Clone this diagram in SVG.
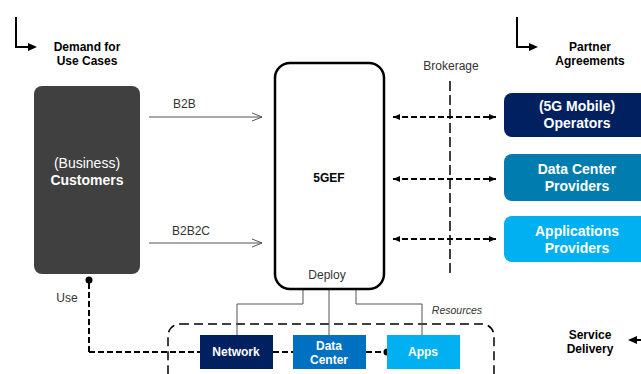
<svg xmlns="http://www.w3.org/2000/svg" width="641" height="374" viewBox="0 0 641 374">
<style>
text{font-family:"Liberation Sans",Arial,sans-serif;}
.b{font-weight:bold;}
.hdr{font-size:12px;font-weight:bold;fill:#000;text-anchor:middle;}
.lbl{font-size:12px;fill:#333;}
.wt{fill:#fff;font-weight:bold;text-anchor:middle;}
.thin{stroke:#555;stroke-width:1;fill:none;}
.dash{stroke:#000;stroke-width:2;stroke-dasharray:6 3;fill:none;}
</style>
<defs>
<marker id="open" markerWidth="12" markerHeight="10" refX="11" refY="5" orient="auto" markerUnits="userSpaceOnUse">
<path d="M1,1 L11,5 L1,9" fill="none" stroke="#555" stroke-width="1"/>
</marker>
<marker id="fill" markerWidth="8" markerHeight="8" refX="7" refY="4" orient="auto-start-reverse" markerUnits="userSpaceOnUse">
<path d="M0,1 L7,4 L0,7 Z" fill="#000"/>
</marker>
<marker id="big" markerWidth="10" markerHeight="10" refX="9" refY="5" orient="auto" markerUnits="userSpaceOnUse">
<path d="M0,1 L9,5 L0,9 Z" fill="#000"/>
</marker>
<marker id="dot" markerWidth="8" markerHeight="8" refX="4" refY="4" orient="auto" markerUnits="userSpaceOnUse">
<circle cx="4" cy="4" r="3.5" fill="#000"/>
</marker>
</defs>

<g id="header-demand">
<path d="M16,17 V47 H29" fill="none" stroke="#000" stroke-width="2"/>
<path d="M28,43 L37,47 L28,51 Z" fill="#000"/>
<text class="hdr" x="87" y="51">Demand for</text>
<text class="hdr" x="87" y="65">Use Cases</text>
</g>
<g id="header-partner">
<path d="M517,17 V47 H530" fill="none" stroke="#000" stroke-width="2"/>
<path d="M529,43 L538,47 L529,51 Z" fill="#000"/>
<text class="hdr" x="590" y="51">Partner</text>
<text class="hdr" x="590" y="65">Agreements</text>
</g>
<g id="header-service">
<text class="hdr" x="590" y="339">Service</text>
<text class="hdr" x="590" y="353">Delivery</text>
<path d="M641,340 H636" fill="none" stroke="#000" stroke-width="2"/>
<path d="M637,336 L628,340 L637,344 Z" fill="#000"/>
</g>

<g id="resources">
<rect x="168" y="324" width="326" height="70" rx="12" fill="none" stroke="#000" stroke-width="1.5" stroke-dasharray="9 5"/>
<text x="482" y="314" font-size="10.5" font-style="italic" fill="#333" text-anchor="end">Resources</text>
</g>

<g id="connectors">
<path class="thin" d="M149,117 H262" marker-end="url(#open)"/>
<path class="thin" d="M149,243 H262" marker-end="url(#open)"/>
<path d="M450,81 V276" stroke="#000" stroke-width="1.5" stroke-dasharray="10 4" fill="none"/>
<path class="dash" d="M393,117 H496" marker-start="url(#fill)" marker-end="url(#fill)"/>
<path class="dash" d="M393,179 H496" marker-start="url(#fill)" marker-end="url(#fill)"/>
<path class="dash" d="M393,239 H496" marker-start="url(#fill)" marker-end="url(#fill)"/>
<path class="thin" d="M303,289 V304 H237 V335"/>
<path class="thin" d="M329,289 V335"/>
<path class="thin" d="M356,289 V304 H422 V335"/>
<path class="dash" d="M89,352 V280" marker-end="url(#dot)"/>
<path class="dash" d="M89,352 H200"/>
<path class="dash" d="M273,352 H293"/>
<path class="dash" d="M366,352 H387" marker-end="url(#dot)"/>
<text class="lbl" x="173" y="108">B2B</text>
<text class="lbl" x="172" y="235">B2B2C</text>
<text class="lbl" x="451" y="70" text-anchor="middle">Brokerage</text>
<text class="lbl" x="67" y="302" text-anchor="middle">Use</text>
</g>

<g id="customers">
<rect x="34" y="86" width="106" height="188" rx="8" fill="#404040"/>
<text x="87" y="168" font-size="14" fill="#fff" text-anchor="middle">(Business)</text>
<text x="87" y="185" font-size="14" class="wt">Customers</text>
</g>

<g id="fivegef">
<rect x="275" y="63" width="109" height="226" rx="15" fill="#fff" stroke="#000" stroke-width="2.5"/>
<text x="329" y="182" font-size="12" class="b" text-anchor="middle">5GEF</text>
<text x="327" y="279" font-size="12" fill="#333" text-anchor="middle">Deploy</text>
</g>

<g id="operators">
<rect x="504" y="93" width="150" height="44" rx="8" fill="#002060"/>
<text x="577" y="111" font-size="14" class="wt">(5G Mobile)</text>
<text x="577" y="128" font-size="14" class="wt">Operators</text>
</g>
<g id="dc-providers">
<rect x="504" y="154" width="150" height="47" rx="8" fill="#007DAE"/>
<text x="577" y="174" font-size="14" class="wt">Data Center</text>
<text x="577" y="191" font-size="14" class="wt">Providers</text>
</g>
<g id="app-providers">
<rect x="504" y="216" width="150" height="46" rx="8" fill="#00B0F0"/>
<text x="577" y="236" font-size="14" class="wt">Applications</text>
<text x="577" y="253" font-size="14" class="wt">Providers</text>
</g>

<g id="network">
<rect x="200" y="335" width="73" height="34" fill="#002060"/>
<text x="236" y="356" font-size="12" class="wt">Network</text>
</g>
<g id="datacenter">
<rect x="293" y="335" width="73" height="34" fill="#0070C0"/>
<text x="329" y="350" font-size="12" class="wt">Data</text>
<text x="329" y="364" font-size="12" class="wt">Center</text>
</g>
<g id="apps">
<rect x="387" y="335" width="73" height="34" fill="#00B0F0"/>
<text x="423" y="356" font-size="12" class="wt">Apps</text>
</g>
</svg>
